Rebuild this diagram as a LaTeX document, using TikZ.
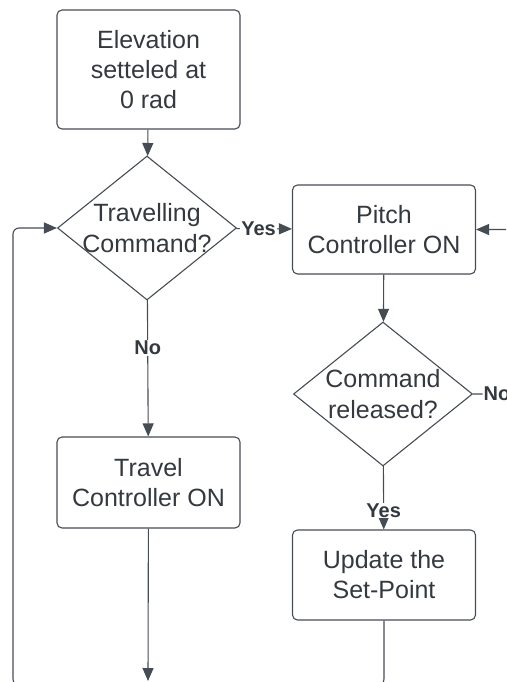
\documentclass[tikz,border=0pt]{standalone}
\usepackage{fontspec}
\setmainfont{Liberation Sans}
\usetikzlibrary{shapes.geometric,arrows.meta}

\definecolor{linegray}{RGB}{70,76,84}
\definecolor{textgray}{RGB}{52,57,64}

\tikzset{
  stepbox/.style={draw=linegray, line width=1.1pt, rounded corners=5pt, minimum width=183pt,
    align=center, text=textgray, font=\fontsize{25}{30}\selectfont},
  choice/.style={draw=linegray, line width=1.1pt, diamond, aspect=1.24, minimum width=179pt,
    minimum height=144pt, inner sep=-6pt, align=center, text=textgray,
    font=\fontsize{25}{31}\selectfont},
  flow/.style={draw=linegray, line width=1.1pt, -{Triangle[length=13pt,width=11pt]}},
  answer/.style={fill=white, inner sep=1pt, text=textgray, font=\fontsize{20}{22}\selectfont\bfseries}
}

\begin{document}
\begin{tikzpicture}[x=1pt,y=-1pt]
        \useasboundingbox (0,0) rectangle (506,682);
        \clip (0,0) rectangle (506,682);

        \node[stepbox, minimum height=119pt] (settle) at (148.5,69.5) {Elevation\\setteled at\\0 rad};
        \node[choice] (travcmd) at (147,228) {Travelling\\Command?};
        \node[stepbox, minimum height=89pt] (pitch) at (384,229.5) {Pitch\\Controller ON};
        \node[choice] (released) at (383,394) {Command\\released?};
        \node[stepbox, minimum height=91pt] (travel) at (148.5,482.5) {Travel\\Controller ON};
        \node[stepbox, minimum height=90pt] (setpt) at (384,575) {Update the\\Set-Point};

        \coordinate (bottom) at (148,681);

        \draw[flow] (settle) -- (travcmd);
        \draw[flow] (travcmd) -- node[answer, pos=0.35] {No} (travel);
        \draw[flow] (travcmd) -- node[answer, pos=0.4] {Yes} (pitch);
        \draw[flow] (pitch) -- (released);
        \draw[flow] (released) -- node[answer, pos=0.7] {Yes} (setpt);
        \draw[flow] (travel) -- (bottom);

        % loops leaving the page
        \draw[flow, rounded corners=6pt] (released.east) -- node[answer, pos=0.4] {No} ++(60,0) |- (pitch.east);
        \draw[flow, rounded corners=6pt] (setpt.south) -- (384,685) -| (13,228) -- (travcmd.west);
    \end{tikzpicture}
\end{document}
